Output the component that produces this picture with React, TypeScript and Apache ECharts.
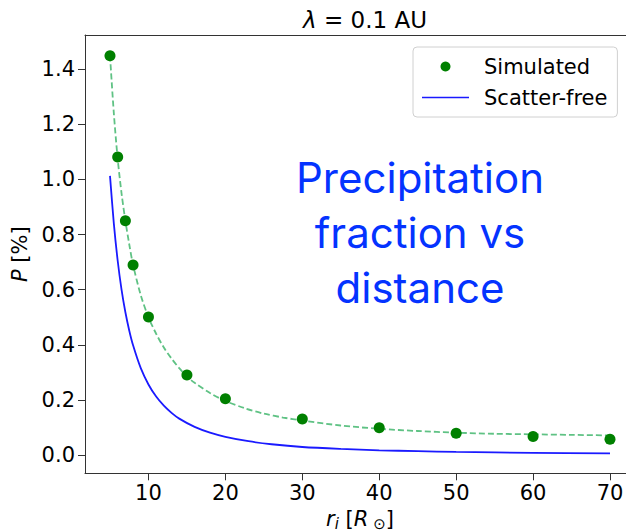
import React, { useEffect, useRef } from "react";
import * as echarts from "echarts";

// Simulated precipitation fraction (points)
const simR = [5, 6, 7, 8, 10, 15, 20, 30, 40, 50, 60, 70];
const simP = [1.449, 1.082, 0.85, 0.69, 0.501, 0.29, 0.204, 0.131, 0.099, 0.079, 0.067, 0.057];

// Fitted dashed curve
const fitR = [5, 5.5, 6, 6.5, 7, 7.5, 8, 9, 10, 11, 12, 13, 14, 15, 16, 18, 20, 22.5, 25, 27.5, 30, 35, 40, 45, 50, 55, 60, 65, 70];
const fitP = [1.45, 1.24, 1.075, 0.95, 0.85, 0.765, 0.69, 0.58, 0.5, 0.44, 0.39, 0.35, 0.315, 0.285, 0.262, 0.225, 0.196, 0.17, 0.15, 0.136, 0.125, 0.107, 0.095, 0.087, 0.081, 0.077, 0.075, 0.073, 0.071];

// Scatter-free curve
const freeR = [5, 5.5, 6, 6.5, 7, 7.5, 8, 9, 10, 11, 12, 13, 14, 16, 18, 20, 23, 26, 30, 35, 40, 45, 50, 60, 70];
const freeP = [1.013, 0.84, 0.705, 0.6, 0.518, 0.452, 0.398, 0.315, 0.256, 0.212, 0.179, 0.153, 0.132, 0.102, 0.081, 0.066, 0.05, 0.039, 0.029, 0.022, 0.017, 0.014, 0.011, 0.008, 0.006];

const xTicks = [10, 20, 30, 40, 50, 60, 70];
const yTicks = [0, 0.2, 0.4, 0.6, 0.8, 1.0, 1.2, 1.4];

const FONT = "DejaVu Sans";

export default function App() {
  const ref = useRef<HTMLDivElement>(null);
  useEffect(() => {
    if (!ref.current) return;
    const chart = echarts.init(ref.current, null, { renderer: "svg" });
    const base = { fontFamily: FONT, fontSize: 21, color: "#000" };
    chart.setOption({
      animation: false,
      backgroundColor: "#fff",
      title: {
        text: "{i|λ} = 0.1 AU",
        left: 360,
        top: 3,
        textAlign: "center",
        textStyle: {
          ...base,
          fontSize: 23,
          fontWeight: "normal",
          rich: {
            i: { fontFamily: FONT, fontSize: 23, fontStyle: "italic", color: "#000" },
          },
        },
      },
      legend: {
        data: [
          { name: "Simulated", icon: "circle" },
          { name: "Scatter-free", icon: "path://M0,0 L47,0 L47,1.6 L0,1.6 Z" },
        ],
        orient: "vertical",
        left: 413,
        top: 47,
        itemWidth: 47,
        itemHeight: 10,
        itemGap: 10,
        padding: [9, 10, 9, 9],
        borderColor: "#d0d0d0",
        borderWidth: 1,
        borderRadius: 4,
        backgroundColor: "rgba(255,255,255,0.8)",
        textStyle: { ...base, padding: [0, 0, 0, 10] },
      },
      grid: {
        left: 85,
        top: 35,
        right: -9,
        bottom: 58.7,
        outerBoundsMode: "none",
        containLabel: false,
        show: false,
      },
      xAxis: [
        {
          type: "value",
          min: 1.75,
          max: 73.25,
          name: "{i|r}{s|i} [{i|R}{s| ⊙}]",
          nameLocation: "middle",
          nameGap: 12,
          nameTextStyle: {
            ...base,
            rich: {
              i: { fontFamily: FONT, fontSize: 21, fontStyle: "italic", color: "#000" },
              s: { fontFamily: FONT, fontSize: 15, fontStyle: "italic", color: "#000", verticalAlign: "bottom", lineHeight: 26 },
            },
          },
          splitLine: { show: false },
          axisLine: { onZero: false, lineStyle: { color: "#333", width: 1 } },
          axisTick: { customValues: xTicks, length: 7, lineStyle: { color: "#333" } },
          axisLabel: { customValues: xTicks, ...base, margin: 9 },
        },
        {
          type: "value",
          position: "top",
          min: 1.75,
          max: 73.25,
          axisLine: { show: true, onZero: false, lineStyle: { color: "#333", width: 1 } },
          axisTick: { show: false },
          axisLabel: { show: false },
          splitLine: { show: false },
        },
      ],
      yAxis: {
        type: "value",
        min: -0.0665,
        max: 1.5245,
        name: "{i|P} [%]",
        nameLocation: "middle",
        nameGap: 43,
        nameRotate: 90,
        nameTextStyle: {
          ...base,
          rich: { i: { fontFamily: FONT, fontSize: 21, fontStyle: "italic", color: "#000" } },
        },
        splitLine: { show: false },
        axisLine: { show: true, onZero: false, lineStyle: { color: "#333", width: 1 } },
        axisTick: { show: true, customValues: yTicks, length: 7, lineStyle: { color: "#333" } },
        axisLabel: { customValues: yTicks, ...base, margin: 10, formatter: (v: number) => v.toFixed(1) },
      },
      graphic: [
        {
          type: "text",
          x: 420,
          y: 232,
          style: {
            text: "Precipitation\nfraction vs\ndistance",
            fontFamily: "Inter",
            fontSize: 42,
            lineHeight: 55,
            fill: "#0433ff",
            textAlign: "center",
            textVerticalAlign: "middle",
          },
          z: 100,
        },
      ],
      series: [
        {
          name: "fit",
          type: "line",
          data: fitR.map((r, i) => [r, fitP[i]]),
          symbol: "none",
          smooth: 0.3,
          lineStyle: { color: "#5fc284", width: 1.8, type: [6, 3] },
          z: 2,
        },
        {
          name: "Scatter-free",
          type: "line",
          data: freeR.map((r, i) => [r, freeP[i]]),
          symbol: "none",
          smooth: 0.3,
          lineStyle: { color: "#1a1aff", width: 1.8 },
          itemStyle: { color: "#1a1aff" },
          z: 3,
        },
        {
          name: "Simulated",
          type: "scatter",
          data: simR.map((r, i) => [r, simP[i]]),
          symbolSize: 11,
          itemStyle: { color: "#008000", opacity: 1 },
          z: 4,
        },
      ],
    });
    return () => chart.dispose();
  }, []);
  return <div ref={ref} style={{ width: 626, height: 532, position: "absolute", left: 0, top: 0 }} />;
}
